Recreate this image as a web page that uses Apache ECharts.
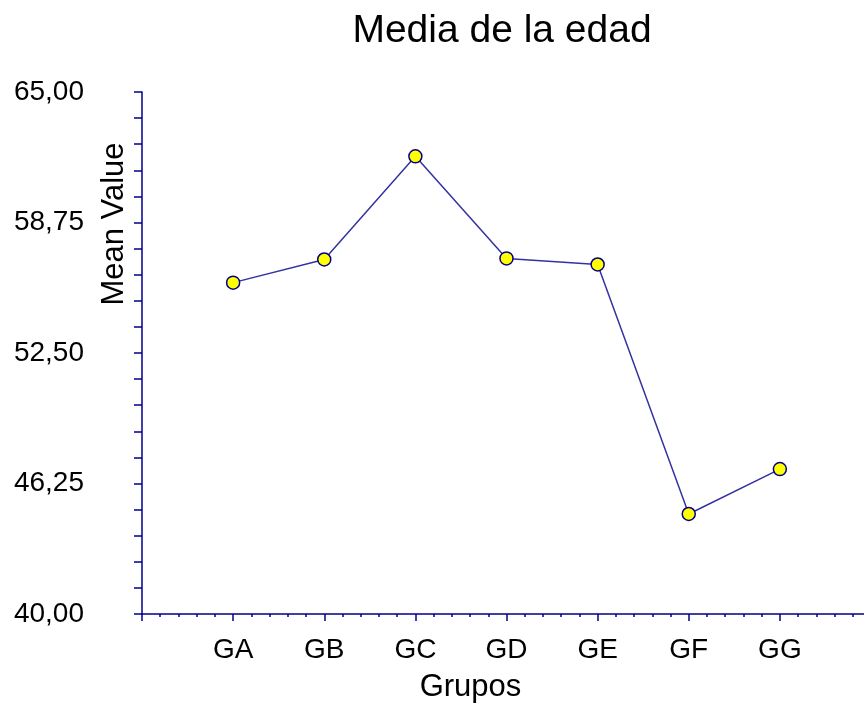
<!DOCTYPE html>
<html style="height: 100%">
<head>
    <meta charset="UTF-8">
    <script src="https://cdn.jsdelivr.net/npm/echarts@6/dist/echarts.min.js"></script>
    <style type="text/css">
        body { margin: 0; background: #ffffff; }
    </style>
</head>
<body>
    <div id="paint" style="width: 864px; height: 704px;"></div>
<script>
    // datos
    var grupos = ['GA', 'GB', 'GC', 'GD', 'GE', 'GF', 'GG'];
    var medias = [55.87, 56.98, 61.92, 57.03, 56.74, 44.79, 46.94];
    var yTicks = [40, 46.25, 52.5, 58.75, 65];

    var puntos = grupos.map(function (g, i) { return [i + 1, medias[i]]; });
    var azul = '#00008B';
    var fuente = 'Liberation Sans, Arial, sans-serif';

    echarts.init(document.getElementById('paint')).setOption({
        backgroundColor: '#ffffff',
        animation: false,
        title: {
            text: 'Media de la edad',
            left: 497,
            top: 7,
            textAlign: 'center',
            textStyle: { fontSize: 39, fontWeight: 'normal', color: '#000000', fontFamily: fuente }
        },
        grid: { left: 142, top: 92, right: -7, bottom: 90, outerBoundsMode: 'none', containLabel: false },
        xAxis: {
            type: 'value',
            min: 0,
            max: 8,
            interval: 1,
            name: 'Grupos',
            nameLocation: 'middle',
            nameGap: 58,
            nameMoveOverlap: false,
            nameTextStyle: { fontSize: 31, color: '#000000', fontFamily: fuente, padding: [0, 72, 0, 0] },
            axisLine: { lineStyle: { color: azul, width: 1.5 } },
            axisTick: { show: true, length: 7, lineStyle: { color: azul, width: 1.5 } },
            minorTick: { show: true, splitNumber: 5, length: 3, lineStyle: { color: azul, width: 1.5 } },
            splitLine: { show: false },
            axisLabel: {
                fontSize: 28, color: '#000000', fontFamily: fuente, margin: 22,
                formatter: function (v) { return grupos[v - 1] || ''; }
            }
        },
        yAxis: {
            type: 'value',
            min: 40,
            max: 65,
            interval: 1.25,
            name: 'Mean Value',
            nameLocation: 'middle',
            nameGap: 12,
            nameRotate: 90,
            nameMoveOverlap: false,
            nameTextStyle: { fontSize: 31, color: '#000000', fontFamily: fuente, padding: [0, 0, 0, 258] },
            axisLine: { lineStyle: { color: azul, width: 1.5 } },
            axisTick: { show: true, length: 8, lineStyle: { color: azul, width: 1.5 } },
            splitLine: { show: false },
            axisLabel: {
                fontSize: 28, color: '#000000', fontFamily: fuente, margin: 58,
                formatter: function (v) {
                    for (var i = 0; i < yTicks.length; i++) {
                        if (Math.abs(v - yTicks[i]) < 1e-6) return v.toFixed(2).replace('.', ',');
                    }
                    return '';
                }
            }
        },
        series: [{
            type: 'line',
            data: puntos,
            symbol: 'circle',
            symbolSize: 13,
            lineStyle: { color: '#3333a0', width: 1.5 },
            itemStyle: { color: '#ffff00', borderColor: azul, borderWidth: 1.5 }
        }]
    });
</script>
</body>
</html>
